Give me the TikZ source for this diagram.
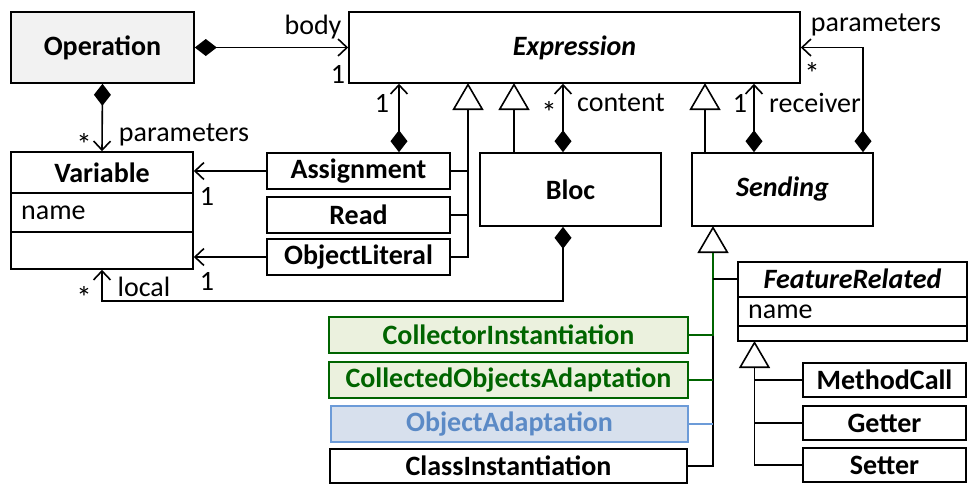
\documentclass[tikz,border=0pt]{standalone}
\usepackage{fontspec}
\setmainfont{Carlito}
\usetikzlibrary{arrows.meta,calc}
\definecolor{opgray}{RGB}{242,242,242}
\definecolor{dgreen}{RGB}{0,100,0}
\definecolor{lgreen}{RGB}{235,241,222}
\definecolor{mblue}{RGB}{108,155,216}
\definecolor{tblue}{RGB}{91,138,198}
\definecolor{lblue}{RGB}{215,224,237}
\tikzset{
  every node/.style={font=\fontsize{28}{32}\selectfont, inner sep=0pt},
  star/.style={font=\fontsize{31}{33}\selectfont},
  cls/.style={draw, line width=1.6pt, rectangle},
  ln/.style={line width=1.6pt},
  gen/.style={ln, -{Triangle[open, length=27pt, width=31pt, fill=white]}},
  compo/.style={ln, {Diamond[length=22pt,width=17pt]}-{Straight Barb[length=9pt,width=17pt]}},
  assoc/.style={ln, -{Straight Barb[length=9pt,width=17pt]}},
  gline/.style={line width=1.6pt, draw=dgreen},
  bline/.style={line width=1.6pt, draw=mblue},
  gbox/.style={cls, draw=dgreen, fill=lgreen, text=dgreen},
  bbox/.style={cls, draw=mblue, fill=lblue, text=tblue},
}
\begin{document}
\begin{tikzpicture}[x=1pt,y=-1pt]
\useasboundingbox (0,0) rectangle (969,496);
% classes
\node[cls, fill=opgray, minimum width=183pt, minimum height=71pt] (op) at (102.5,47.5) {\bfseries Operation};
\node[cls, minimum width=451pt, minimum height=71pt] (expr) at (574.5,47.5) {\bfseries\itshape Expression};
\node[cls, minimum width=182pt, minimum height=117pt] (var) at (102,210.5) {};
\node (vart) at (102,173) {\bfseries Variable};
\node[anchor=west] (varn) at (21,213) {name};
\draw[ln] (var.west |- 0,193) -- (var.east |- 0,193);
\draw[ln] (var.west |- 0,232) -- (var.east |- 0,232);
\node[cls, minimum width=183pt, minimum height=36pt] (asg) at (358.5,171) {\bfseries Assignment};
\node[cls, minimum width=183pt, minimum height=36pt] (read) at (358.5,215) {\bfseries Read};
\node[cls, minimum width=183pt, minimum height=36pt] (ol) at (358.5,257) {\bfseries ObjectLiteral};
\node[cls, minimum width=181pt, minimum height=73pt] (bloc) at (570.5,189.5) {\bfseries Bloc};
\node[cls, minimum width=181pt, minimum height=73pt] (send) at (782.5,189.5) {\bfseries\itshape Sending};
\node[cls, minimum width=229pt, minimum height=79pt] (fr) at (852.5,301.5) {};
\node (frt) at (852.5,279) {\bfseries\itshape FeatureRelated};
\node[anchor=west] (frn) at (748,312) {name};
\draw[ln] (fr.west |- 0,297) -- (fr.east |- 0,297);
\draw[ln] (fr.west |- 0,326) -- (fr.east |- 0,326);
\node[gbox, minimum width=359pt, minimum height=36pt] (ci) at (508.5,335) {\bfseries CollectorInstantiation};
\node[gbox, minimum width=359pt, minimum height=36pt] (coa) at (508.5,380) {\bfseries CollectedObjectsAdaptation};
\node[bbox, minimum width=357pt, minimum height=36pt] (oa) at (509.5,424) {\bfseries ObjectAdaptation};
\node[cls, minimum width=357pt, minimum height=34pt] (cli) at (508.5,466) {\bfseries ClassInstantiation};
\node[cls, minimum width=163pt, minimum height=34pt] (mc) at (884.5,380) {\bfseries MethodCall};
\node[cls, minimum width=163pt, minimum height=34pt] (get) at (884.5,423) {\bfseries Getter};
\node[cls, minimum width=163pt, minimum height=34pt] (set) at (884.5,465) {\bfseries Setter};
% generalization points
\coordinate (g1) at (468,83);
\coordinate (g2) at (514,83);
\coordinate (g3) at (705,83);
\coordinate (g4) at (713,226);
\coordinate (g4b) at (713,253);
\coordinate (g5) at (754.5,341);
% generalizations
\draw[gen] (ol.east) -| (g1);
\draw[ln] (asg.east) -- (asg.east -| g1);
\draw[ln] (read.east) -- (read.east -| g1);
\draw[gen] (bloc.north -| g2) -- (g2);
\draw[gen] (send.north -| g3) -- (g3);
\draw[gen] (cli.east) -| (g4);
\draw[gline] (ci.east) -| (g4b);
\draw[gline] (coa.east) -- (coa.east -| g4);
\draw[bline] (oa.east) -- (oa.east -| g4);
\draw[ln] (frt.west -| fr.west) -- (frt.west -| g4);
\draw[gen] (set.west) -| (g5);
\draw[ln] (mc.west) -- (mc.west -| g5);
\draw[ln] (get.west) -- (get.west -| g5);
% compositions
\draw[compo] (op.east) -- (expr.west);
\draw[compo] (op.south) -- (var.north);
\draw[compo] ([xshift=40.5pt]asg.north) -- ([xshift=40.5pt]asg.north |- expr.south);
\draw[compo] ([xshift=-7.5pt]bloc.north) -- ([xshift=-7.5pt]bloc.north |- expr.south);
\draw[compo] ([xshift=-28.5pt]send.north) -- ([xshift=-28.5pt]send.north |- expr.south);
\draw[compo] ([xshift=80.5pt]send.north) |- (expr.east);
\draw[compo] ([xshift=-7.5pt]bloc.south) -- ++(0,74) -| (var.south);
\draw[assoc] (asg.west) -- (asg.west -| var.east);
\draw[assoc] (ol.west) -- (ol.west -| var.east);
% labels
\node (lbody) at (313,27) {body};
\node (lb1) at (338,74) {1};
\node[star] (lps) at (84,144) {*};
\node (lpar) at (184,135) {parameters};
\node (la1) at (382,103) {1};
\node[star] (lcs) at (549,112) {*};
\node (lcon) at (621,103) {content};
\node (lr1) at (740,103) {1};
\node (lrec) at (815,103) {receiver};
\node (lpar2) at (876,25) {parameters};
\node[star] (lps2) at (812,73) {*};
\node (lv1) at (207,196) {1};
\node (lv2) at (207,281) {1};
\node[star] (lls) at (84,297) {*};
\node (lloc) at (144,287) {local};
\end{tikzpicture}
\end{document}
